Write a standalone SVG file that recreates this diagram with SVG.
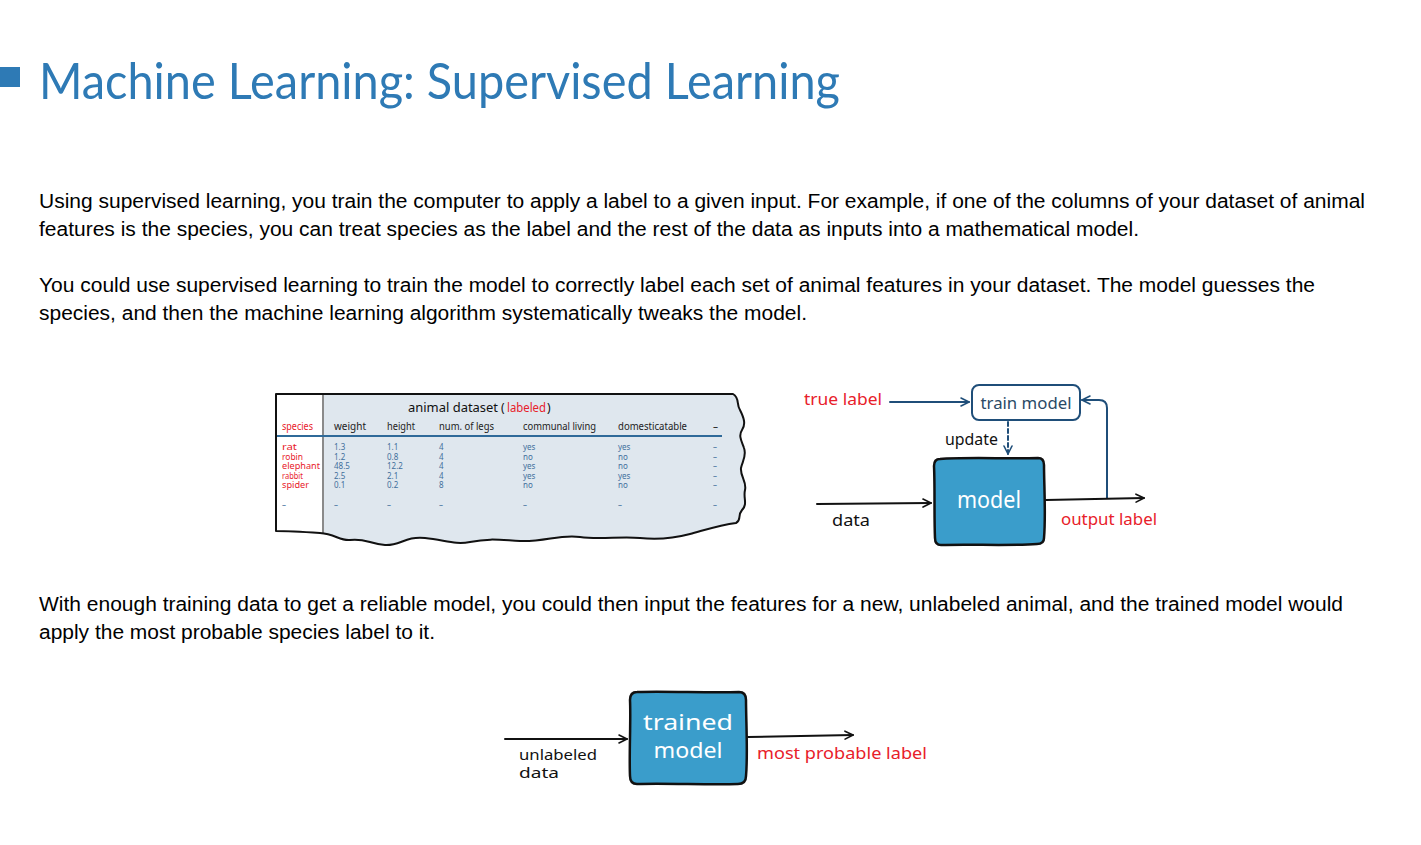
<svg xmlns="http://www.w3.org/2000/svg" width="1421" height="845" viewBox="0 0 1421 845">
<defs>
<style>
.body{font-family:"Liberation Sans",Arial,sans-serif;font-size:20px;fill:#000}
.title{font-family:Lato,"Noto Sans",sans-serif;font-size:50px;fill:#2e7ab5}
.hw{font-family:"Noto Sans","DejaVu Sans",sans-serif}
.th{font-size:10px;fill:#222}
.sp{font-size:10px;fill:#e8202a}
.sr{font-size:8px;fill:#e8202a}
.val{font-size:8px;fill:#3f6f9c}
.red{fill:#e8202a}
.blk{fill:#111}
.wt{fill:#fff}
.lbl{font-size:16px}
.ln{fill:none;stroke-width:2;stroke-linecap:round;stroke-linejoin:round}
.k{stroke:#111}
.b{stroke:#1f4e79}
</style>
<marker id="ak" viewBox="0 0 10 10" refX="9" refY="5" markerWidth="10" markerHeight="10" markerUnits="userSpaceOnUse" orient="auto">
<path d="M1,1 L9,5 L1,9" fill="none" stroke="#111" stroke-width="1.6" stroke-linecap="round" stroke-linejoin="round"/>
</marker>
<marker id="ab" viewBox="0 0 10 10" refX="9" refY="5" markerWidth="10" markerHeight="10" markerUnits="userSpaceOnUse" orient="auto">
<path d="M1,1 L9,5 L1,9" fill="none" stroke="#1f4e79" stroke-width="1.6" stroke-linecap="round" stroke-linejoin="round"/>
</marker>
</defs>
<rect width="1421" height="845" fill="#fff"/>

<g id="title">
<rect x="0" y="67" width="20" height="20" fill="#2e7ab5"/>
<text class="title" x="39" y="99" textLength="801" lengthAdjust="spacingAndGlyphs">Machine Learning: Supervised Learning</text>
</g>

<g id="paragraphs">
<text class="body" x="39" y="208" textLength="1326" lengthAdjust="spacingAndGlyphs">Using supervised learning, you train the computer to apply a label to a given input. For example, if one of the columns of your dataset of animal</text>
<text class="body" x="39" y="236" textLength="1100" lengthAdjust="spacingAndGlyphs">features is the species, you can treat species as the label and the rest of the data as inputs into a mathematical model.</text>
<text class="body" x="39" y="292" textLength="1276" lengthAdjust="spacingAndGlyphs">You could use supervised learning to train the model to correctly label each set of animal features in your dataset. The model guesses the</text>
<text class="body" x="39" y="320" textLength="768" lengthAdjust="spacingAndGlyphs">species, and then the machine learning algorithm systematically tweaks the model.</text>
<text class="body" x="39" y="611" textLength="1304" lengthAdjust="spacingAndGlyphs">With enough training data to get a reliable model, you could then input the features for a new, unlabeled animal, and the trained model would</text>
<text class="body" x="39" y="639" textLength="396" lengthAdjust="spacingAndGlyphs">apply the most probable species label to it.</text>
</g>

<g id="table">
<path d="M276,394 L733,394 C740,398 736,404 740,410 C744,418 746,424 742,430 C738,436 742,442 744,448 C747,456 742,462 741,468 C740,476 747,482 745,490 C743,498 748,504 742,510 C737,516 742,520 736,523 C720,525 705,530 690,534 C675,538 660,540 640,538 C620,536 600,540 580,537 C560,534 545,542 520,541 C500,540 490,538 470,542 C455,545 445,540 425,538 C405,536 400,546 385,545 C370,544 365,538 350,540 C340,541 335,534 320,533 C305,532 290,531 276,531 Z" fill="#dfe7ee"/>
<path d="M276,394 L323,394 L323,533 C305,532 290,531 276,531 Z" fill="#fff"/>
<line x1="323" y1="394" x2="323" y2="534" stroke="#8a8a8a" stroke-width="2"/>
<line x1="276" y1="436" x2="722" y2="436" stroke="#2f6a99" stroke-width="2"/>
<path d="M276,394 L733,394 C740,398 736,404 740,410 C744,418 746,424 742,430 C738,436 742,442 744,448 C747,456 742,462 741,468 C740,476 747,482 745,490 C743,498 748,504 742,510 C737,516 742,520 736,523 C720,525 705,530 690,534 C675,538 660,540 640,538 C620,536 600,540 580,537 C560,534 545,542 520,541 C500,540 490,538 470,542 C455,545 445,540 425,538 C405,536 400,546 385,545 C370,544 365,538 350,540 C340,541 335,534 320,533 C305,532 290,531 276,531 Z" fill="none" stroke="#111" stroke-width="2" stroke-linejoin="round"/>
<g class="hw">
<text x="408" y="412" font-size="12" class="blk" textLength="90" lengthAdjust="spacingAndGlyphs">animal dataset</text>
<text x="501" y="412" font-size="12" class="blk">(</text>
<text x="507" y="412" font-size="12" class="red" textLength="39" lengthAdjust="spacingAndGlyphs">labeled</text>
<text x="547" y="412" font-size="12" class="blk">)</text>
<text x="282" y="430" class="sp" textLength="31" lengthAdjust="spacingAndGlyphs">species</text>
<text x="334" y="430" class="th" textLength="32" lengthAdjust="spacingAndGlyphs">weight</text>
<text x="387" y="430" class="th" textLength="28" lengthAdjust="spacingAndGlyphs">height</text>
<text x="439" y="430" class="th" textLength="55" lengthAdjust="spacingAndGlyphs">num. of legs</text>
<text x="523" y="430" class="th" textLength="73" lengthAdjust="spacingAndGlyphs">communal living</text>
<text x="618" y="430" class="th" textLength="69" lengthAdjust="spacingAndGlyphs">domesticatable</text>
<text x="713" y="430" class="th">–</text>

<text x="282" y="450" class="sr" textLength="15" lengthAdjust="spacingAndGlyphs">rat</text>
<text x="282" y="459.5" class="sr" textLength="21" lengthAdjust="spacingAndGlyphs">robin</text>
<text x="282" y="469" class="sr" textLength="38" lengthAdjust="spacingAndGlyphs">elephant</text>
<text x="282" y="478.5" class="sr" textLength="21" lengthAdjust="spacingAndGlyphs">rabbit</text>
<text x="282" y="488" class="sr" textLength="27" lengthAdjust="spacingAndGlyphs">spider</text>
<text x="282" y="508" class="val">–</text>

<text x="334" y="450" class="val">1.3</text>
<text x="334" y="459.5" class="val">1.2</text>
<text x="334" y="469" class="val">48.5</text>
<text x="334" y="478.5" class="val">2.5</text>
<text x="334" y="488" class="val">0.1</text>
<text x="334" y="508" class="val">–</text>

<text x="387" y="450" class="val">1.1</text>
<text x="387" y="459.5" class="val">0.8</text>
<text x="387" y="469" class="val">12.2</text>
<text x="387" y="478.5" class="val">2.1</text>
<text x="387" y="488" class="val">0.2</text>
<text x="387" y="508" class="val">–</text>

<text x="439" y="450" class="val">4</text>
<text x="439" y="459.5" class="val">4</text>
<text x="439" y="469" class="val">4</text>
<text x="439" y="478.5" class="val">4</text>
<text x="439" y="488" class="val">8</text>
<text x="439" y="508" class="val">–</text>

<text x="523" y="450" class="val">yes</text>
<text x="523" y="459.5" class="val">no</text>
<text x="523" y="469" class="val">yes</text>
<text x="523" y="478.5" class="val">yes</text>
<text x="523" y="488" class="val">no</text>
<text x="523" y="508" class="val">–</text>

<text x="618" y="450" class="val">yes</text>
<text x="618" y="459.5" class="val">no</text>
<text x="618" y="469" class="val">no</text>
<text x="618" y="478.5" class="val">yes</text>
<text x="618" y="488" class="val">no</text>
<text x="618" y="508" class="val">–</text>

<text x="713" y="450" class="val">–</text>
<text x="713" y="459.5" class="val">–</text>
<text x="713" y="469" class="val">–</text>
<text x="713" y="478.5" class="val">–</text>
<text x="713" y="488" class="val">–</text>
<text x="713" y="508" class="val">–</text>
</g>
</g>

<g id="connectors">
<path class="ln b" d="M890,402 L969,402" marker-end="url(#ab)"/>
<path class="ln b" d="M1008,422 L1008,454" stroke-dasharray="4,3" marker-end="url(#ab)"/>
<path class="ln b" d="M1107,498 L1107,408 Q1107,400 1099,400 L1082,400" marker-end="url(#ab)"/>
<path class="ln k" d="M817,504 L931,503" marker-end="url(#ak)"/>
<path class="ln k" d="M1046,500 L1144,498" marker-end="url(#ak)"/>
<path class="ln k" d="M505,739 L627,739" marker-end="url(#ak)"/>
<path class="ln k" d="M748,737 L853,735" marker-end="url(#ak)"/>
</g>

<g id="true-label" class="hw">
<text x="804" y="405" class="lbl red" textLength="78" lengthAdjust="spacingAndGlyphs">true label</text>
</g>

<g id="train-model" class="hw">
<rect x="972" y="385" width="108" height="35" rx="7" fill="#fff" stroke="#1f4e79" stroke-width="2"/>
<text x="1026" y="409" class="lbl" fill="#2a4a66" text-anchor="middle" textLength="91" lengthAdjust="spacingAndGlyphs">train model</text>
</g>

<g id="update-label" class="hw">
<text x="945" y="445" class="lbl blk" textLength="53" lengthAdjust="spacingAndGlyphs">update</text>
</g>

<g id="model" class="hw">
<path d="M940,459 C965,457 1010,459 1038,458 Q1044,458 1044,465 C1044,485 1046,515 1044,538 Q1044,544 1037,544 C1010,546 970,544 941,545 Q935,545 935,538 C934,515 935,485 934,466 Q934,459 940,459 Z" fill="#3a9dcb" stroke="#111" stroke-width="2.5"/>
<text x="989" y="508" font-size="24" class="wt" text-anchor="middle" textLength="64" lengthAdjust="spacingAndGlyphs">model</text>
</g>

<g id="data-label" class="hw">
<text x="832" y="526" class="lbl blk" textLength="38" lengthAdjust="spacingAndGlyphs">data</text>
</g>

<g id="output-label" class="hw">
<text x="1061" y="525" class="lbl red" textLength="96" lengthAdjust="spacingAndGlyphs">output label</text>
</g>

<g id="trained-model" class="hw">
<path d="M637,692 C665,691 710,693 739,692 Q746,692 746,700 C746,720 748,755 746,776 Q746,784 738,784 C710,785 665,783 637,784 Q630,784 630,776 C629,755 631,720 630,700 Q630,692 637,692 Z" fill="#3a9dcb" stroke="#111" stroke-width="2.5"/>
<text x="688" y="730" font-size="22" class="wt" text-anchor="middle" textLength="90" lengthAdjust="spacingAndGlyphs">trained</text>
<text x="688" y="758" font-size="22" class="wt" text-anchor="middle" textLength="69" lengthAdjust="spacingAndGlyphs">model</text>
</g>

<g id="unlabeled-data" class="hw">
<text x="519" y="760" font-size="15" class="blk" textLength="78" lengthAdjust="spacingAndGlyphs">unlabeled</text>
<text x="519" y="778" font-size="15" class="blk" textLength="40" lengthAdjust="spacingAndGlyphs">data</text>
</g>

<g id="most-probable-label" class="hw">
<text x="757" y="759" font-size="17" class="red" textLength="170" lengthAdjust="spacingAndGlyphs">most probable label</text>
</g>
</svg>
